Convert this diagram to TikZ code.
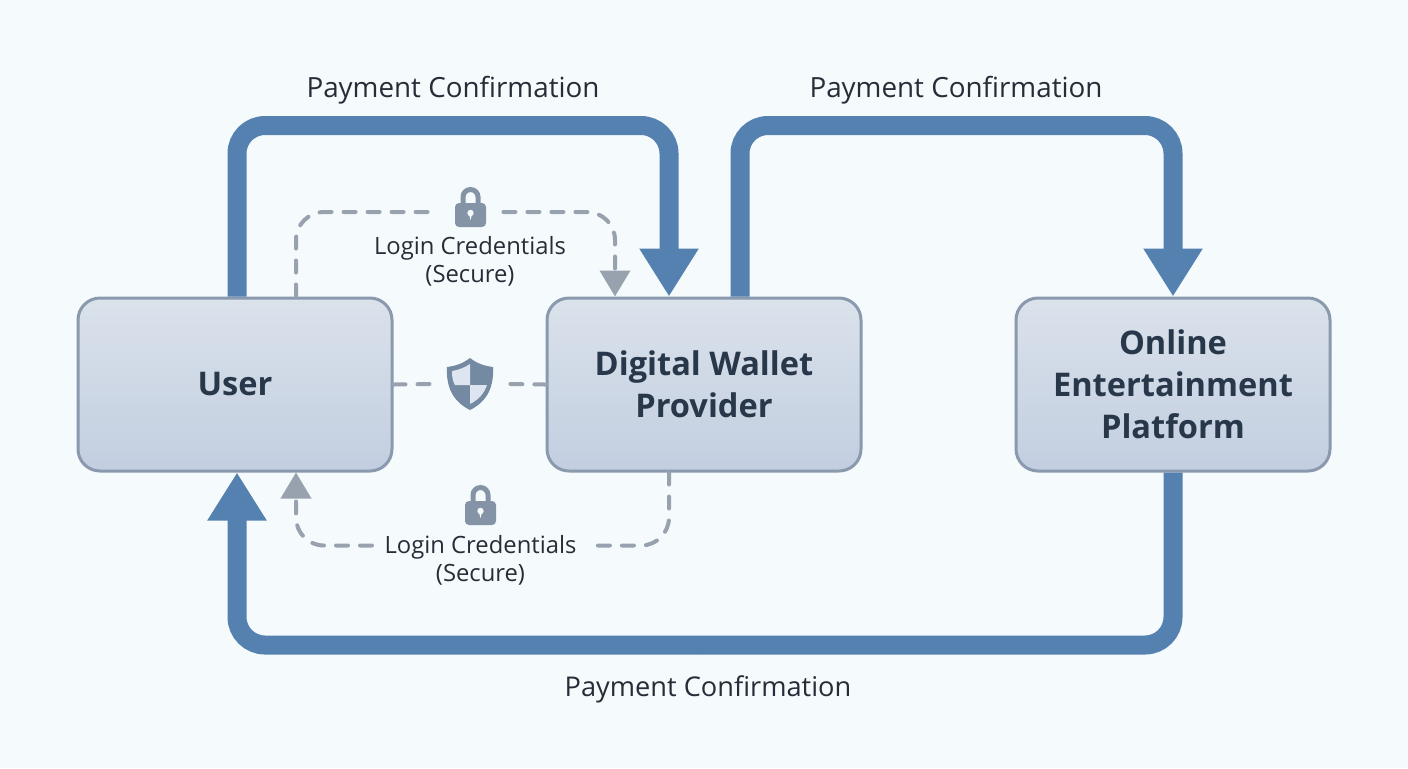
\documentclass[tikz,border=0pt]{standalone}
\usepackage{fontspec}
\setmainfont{Open Sans}
\usetikzlibrary{arrows.meta,positioning,calc}
\definecolor{bgpale}{HTML}{F5FAFC}
\definecolor{boxtop}{HTML}{DAE2EB}
\definecolor{boxbot}{HTML}{C2CEE0}
\definecolor{boxline}{HTML}{8A99AE}
\definecolor{flowblue}{HTML}{5581B0}
\definecolor{dashgrey}{HTML}{98A2AE}
\definecolor{icongrey}{HTML}{8593A6}
\definecolor{shieldblue}{HTML}{7489A2}
\definecolor{shieldpale}{HTML}{DDE6F0}
\definecolor{inkdark}{HTML}{28384A}
\definecolor{inklabel}{HTML}{252E38}
\tikzset{
  lockicon/.pic={
    \draw[icongrey,line width=2.5pt] (-7.5,-6) -- (-7.5,-12) arc[start angle=180,end angle=360,radius=7.5] -- (7.5,-6);
    \fill[icongrey,rounded corners=2pt] (-15.5,-6) rectangle (15.5,18);
    \fill[bgpale] (0,4) circle[radius=3.2];
    \fill[bgpale] (-1.6,5) -- (1.6,5) -- (0,11) -- cycle;
  },
  shieldicon/.pic={
    \fill[shieldblue,line join=round] (0,-26) .. controls (-8,-20) and (-15,-18) .. (-23,-17)
      .. controls (-24,2) and (-18,17) .. (0,26)
      .. controls (18,17) and (24,2) .. (23,-17)
      .. controls (15,-18) and (8,-20) .. (0,-26) -- cycle;
    \fill[shieldpale] (0,-20) .. controls (-6,-16) and (-12,-14) .. (-18,-13)
      .. controls (-18,-6) and (-17,-2) .. (-15,1) -- (0,1) -- cycle;
    \fill[shieldpale] (0,1) -- (17,1) .. controls (14,10) and (8,16) .. (0,20) -- cycle;
  }
}
\begin{document}
\begin{tikzpicture}[x=0.5pt,y=-0.5pt,
  node distance=76pt,
  box/.style={draw=boxline,line width=1.5pt,rounded corners=11pt,top color=boxtop,
    bottom color=boxbot,minimum width=157pt,minimum height=86.5pt,align=center,
    font=\fontsize{16.3}{21}\selectfont\bfseries,text=inkdark},
  flow/.style={draw=flowblue,line width=9.5pt,rounded corners=14pt},
  arr/.style={flow,-{Triangle[length=24pt,width=28pt]}},
  dashline/.style={dashgrey,line width=2pt,line cap=round,dash pattern=on 6pt off 6pt,rounded corners=14pt},
  darr/.style={dashline,-{Triangle[length=13pt,width=15pt,fill=dashgrey]}},
  lbl/.style={font=\fontsize{13.9}{16}\selectfont,text=inklabel},
  cred/.style={align=center,font=\fontsize{11.9}{14}\selectfont,text=inklabel}]
\fill[bgpale] (0,0) rectangle (1408,768);
\useasboundingbox (0,0) rectangle (1408,768);
% boxes
\node[box] (user) at (235,384.5) {User};
\node[box,right=of user] (wallet) {Digital Wallet\\Provider};
\node[box,right=of wallet] (platform) {Online\\Entertainment\\Platform};
% corners of the thick lines
\coordinate (topa) at (450,125.5);
\coordinate (topb) at (950,125.5);
\coordinate (bota) at (700,645);
% thick arrows
\draw[arr] ([xshift=1pt]user.north) |- (topa) -| ([xshift=-17.5pt]wallet.north);
\draw[arr] ([xshift=18pt]wallet.north) |- (topb) -| (platform.north);
\draw[flow] (platform.south) |- (bota);
\draw[arr] (bota) -| ([xshift=1pt]user.south);
% icon gaps
\node[minimum width=32.5pt,minimum height=10pt,inner sep=0pt] (locka) at (470.5,212) {};
\node[minimum width=40pt,minimum height=26pt,inner sep=0pt] (shield) at (470,384) {};
\coordinate (dasha) at (595,545.5);
\coordinate (dashb) at (372,545.5);
% dashed links
\draw[dashline] ([xshift=30.5pt]user.north) |- (locka.west);
\draw[darr] (locka.east) -| ([xshift=-44.5pt]wallet.north);
\draw[dashline] (user.east) -- (shield.west);
\draw[dashline] (shield.east) -- (wallet.west);
\draw[dashline] ([xshift=-17.5pt]wallet.south) |- (dasha);
\draw[darr] (dashb) -| ([xshift=30.5pt]user.south);
% icons
\pic at (470.5,209) {lockicon};
\pic at (480.5,507) {lockicon};
\pic at (470,384) {shieldicon};
% labels
\node[lbl] (paya) at (453,90) {Payment Confirmation};
\node[lbl] (payb) at (956,90) {Payment Confirmation};
\node[lbl,font=\fontsize{13.6}{16}\selectfont] (payc) at (708,689) {Payment Confirmation};
\node[cred] (creda) at (470,261) {Login Credentials\\(Secure)};
\node[cred] (credb) at (480.5,560) {Login Credentials\\(Secure)};
\end{tikzpicture}
\end{document}
